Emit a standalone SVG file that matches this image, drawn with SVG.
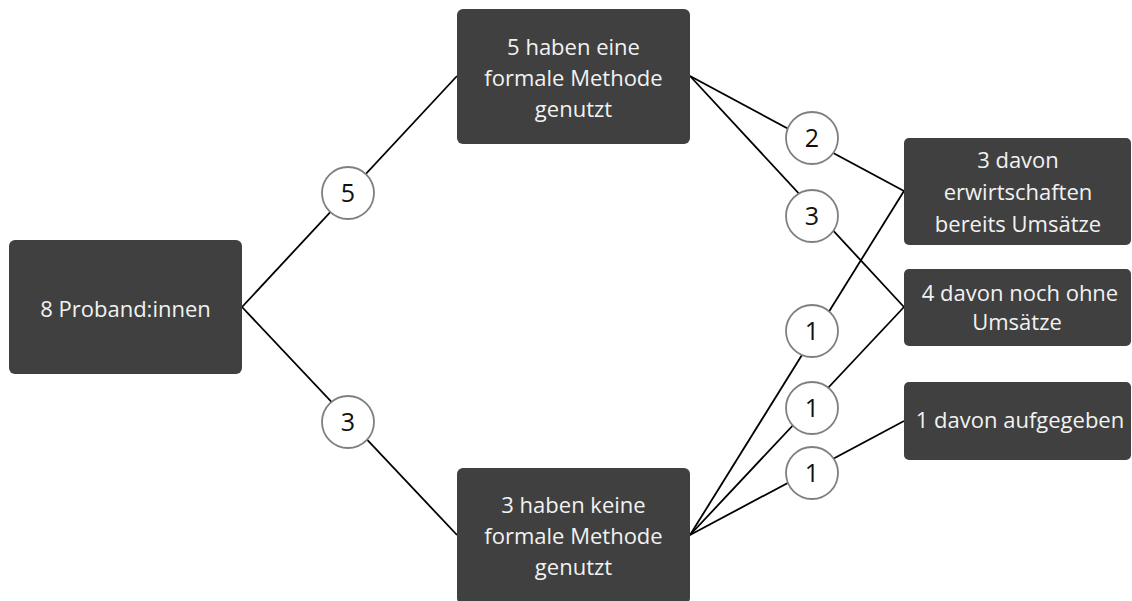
<svg xmlns="http://www.w3.org/2000/svg" width="1132" height="601" viewBox="0 0 1132 601">
<style>
.box{fill:#404040;}
.bt{font-family:"Open Sans","Liberation Sans",sans-serif;font-size:22px;fill:#f2f2f2;text-anchor:middle;}
.ct{font-family:"Open Sans","Liberation Sans",sans-serif;font-size:25px;fill:#111;text-anchor:middle;}
.circ{fill:#fff;stroke:#7f7f7f;stroke-width:1.8;}
.ln{stroke:#000;stroke-width:1.8;fill:none;}
</style>
<rect width="1132" height="601" fill="#fff"/>
<g id="connectors">
<line class="ln" x1="242" y1="307" x2="457" y2="76"/>
<line class="ln" x1="242" y1="307" x2="457" y2="535"/>
<line class="ln" x1="690" y1="76" x2="904" y2="191"/>
<line class="ln" x1="690" y1="76" x2="904" y2="307"/>
<line class="ln" x1="690" y1="535" x2="904" y2="191"/>
<line class="ln" x1="690" y1="535" x2="904" y2="307"/>
<line class="ln" x1="690" y1="535" x2="904" y2="421"/>
</g>
<g id="n_proband"><rect class="box" x="9" y="240" width="233" height="134" rx="6"/><text class="bt" x="125.5" y="317">8 Proband:innen</text></g>
<g id="n_formal"><rect class="box" x="457" y="9" width="233" height="135" rx="6"/><text class="bt" x="573.5" y="55">5 haben eine</text><text class="bt" x="573.5" y="86">formale Methode</text><text class="bt" x="573.5" y="117">genutzt</text></g>
<g id="n_keine"><rect class="box" x="457" y="468" width="233" height="136" rx="6"/><text class="bt" x="573.5" y="513">3 haben keine</text><text class="bt" x="573.5" y="544">formale Methode</text><text class="bt" x="573.5" y="575">genutzt</text></g>
<g id="n_umsatz"><rect class="box" x="904" y="138" width="227" height="107" rx="5"/><text class="bt" x="1018" y="168">3 davon</text><text class="bt" x="1018" y="200">erwirtschaften</text><text class="bt" x="1018" y="232">bereits Umsätze</text></g>
<g id="n_ohne"><rect class="box" x="904" y="269" width="227" height="77" rx="5"/><text class="bt" x="1020" y="301">4 davon noch ohne</text><text class="bt" x="1017" y="330">Umsätze</text></g>
<g id="n_aufgegeben"><rect class="box" x="904" y="382" width="227" height="78" rx="5"/><text class="bt" x="1020" y="428">1 davon aufgegeben</text></g>
<g id="c5"><circle class="circ" cx="348" cy="193" r="26"/><text class="ct" x="348" y="202">5</text></g>
<g id="c3a"><circle class="circ" cx="348" cy="422" r="26"/><text class="ct" x="348" y="431">3</text></g>
<g id="c2"><circle class="circ" cx="812" cy="138" r="26"/><text class="ct" x="812" y="147">2</text></g>
<g id="c3b"><circle class="circ" cx="812" cy="216" r="26"/><text class="ct" x="812" y="225">3</text></g>
<g id="c1a"><circle class="circ" cx="812" cy="331" r="26"/><text class="ct" x="812" y="340">1</text></g>
<g id="c1b"><circle class="circ" cx="812" cy="408" r="26"/><text class="ct" x="812" y="417">1</text></g>
<g id="c1c"><circle class="circ" cx="812" cy="473" r="26"/><text class="ct" x="812" y="482">1</text></g>
</svg>
